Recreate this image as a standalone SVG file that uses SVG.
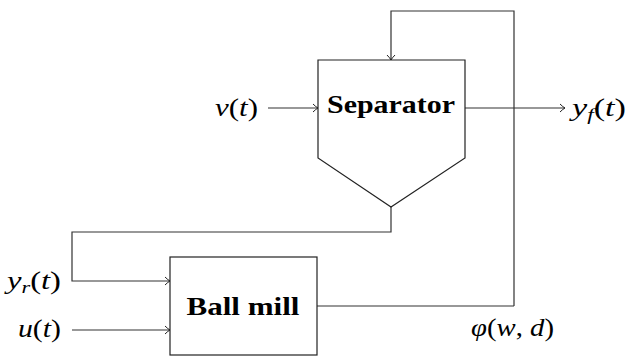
<svg xmlns="http://www.w3.org/2000/svg" width="627" height="356" viewBox="0 0 627 356">
<style>
.box{fill:#fff;stroke:#222;stroke-width:1.2}
.con{fill:none;stroke:#333;stroke-width:1.2}
.lbl{font-family:"Liberation Serif","DejaVu Serif",serif;font-weight:bold;font-size:25px;fill:#000}
.math{font-family:"Liberation Serif","DejaVu Serif",serif;font-style:italic;font-size:25px;fill:#000}
.up{font-style:normal}
.sub{font-size:17px}
</style>
<defs>
<marker id="arr" viewBox="-6 -5 8 10" refX="0" refY="0" markerWidth="8" markerHeight="10" markerUnits="userSpaceOnUse" orient="auto">
<path d="M-5,-4 Q-2,-1 0,0 Q-2,1 -5,4" fill="none" stroke="#222" stroke-width="1"/>
</marker>
</defs>
<g id="connectors">
<path class="con" d="M514,306 V11 H391 V60" marker-end="url(#arr)"/>
<path class="con" d="M268,108 H318" marker-end="url(#arr)"/>
<path class="con" d="M465,108 H565" marker-end="url(#arr)"/>
<path class="con" d="M391,207 V232 H72 V281 H170" marker-end="url(#arr)"/>
<path class="con" d="M72,330 H170" marker-end="url(#arr)"/>
<path class="con" d="M317,306 H514"/>
</g>
<g id="separator">
<path class="box" d="M318,60 H465 V158 L391,207 L318,158 Z"/>
<text class="lbl" x="391" y="113" text-anchor="middle" textLength="128" lengthAdjust="spacingAndGlyphs">Separator</text>
</g>
<g id="ballmill">
<rect class="box" x="170" y="257" width="147" height="98"/>
<text class="lbl" x="243" y="315" text-anchor="middle" textLength="113" lengthAdjust="spacingAndGlyphs">Ball mill</text>
</g>
<g id="labels">
<text class="math" x="215" y="116" textLength="43" lengthAdjust="spacingAndGlyphs">v<tspan class="up">(</tspan>t<tspan class="up">)</tspan></text>
<text class="math" x="572" y="116" textLength="54" lengthAdjust="spacingAndGlyphs">y<tspan class="sub" dy="4">f</tspan><tspan class="up" dy="-4">(</tspan>t<tspan class="up">)</tspan></text>
<text class="math" x="7" y="289" textLength="54" lengthAdjust="spacingAndGlyphs">y<tspan class="sub" dy="4">r</tspan><tspan class="up" dy="-4">(</tspan>t<tspan class="up">)</tspan></text>
<text class="math" x="18" y="337" textLength="43" lengthAdjust="spacingAndGlyphs">u<tspan class="up">(</tspan>t<tspan class="up">)</tspan></text>
<text class="math" x="471" y="336" textLength="83" lengthAdjust="spacingAndGlyphs">φ<tspan class="up">(</tspan>w<tspan class="up">,</tspan> d<tspan class="up">)</tspan></text>
</g>
</svg>
